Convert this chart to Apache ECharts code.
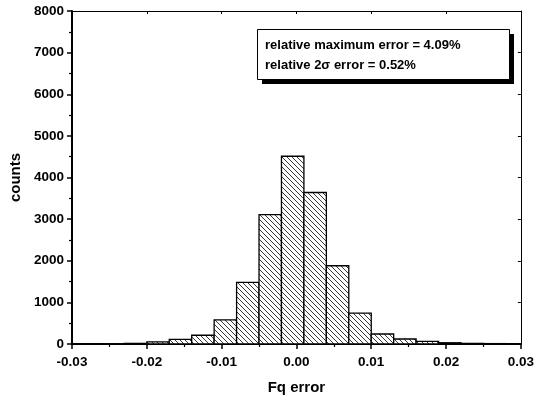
<!DOCTYPE html>
<html>
<head>
<meta charset="utf-8">
<script src="https://cdn.jsdelivr.net/npm/echarts@6/dist/echarts.min.js"></script>
<style>html,body{margin:0;padding:0;background:#fff}#c{width:537px;height:401px}</style>
</head>
<body>
<div id="c"></div>
<script>
// Histogram data (lower bin edge, counts); bin width 0.003
const binLower = [-0.026, -0.023, -0.020, -0.017, -0.014, -0.011, -0.008, -0.005, -0.002, 0.001, 0.004, 0.007, 0.010, 0.013, 0.016, 0.019, 0.022, 0.025];
const counts   = [5, 15, 50, 110, 210, 580, 1480, 3110, 4510, 3640, 1880, 740, 240, 120, 65, 30, 15, 10];
const binWidth = 0.003;
const xTicks = [-0.03, -0.02, -0.01, 0.00, 0.01, 0.02, 0.03];
const yTicks = [0, 1000, 2000, 3000, 4000, 5000, 6000, 7000, 8000];
const xTitle = 'Fq error';
const yTitle = 'counts';
const noteLines = ['relative maximum error = 4.09%', 'relative 2σ error = 0.52%'];

const data = binLower.map((b, i) => [b, +(b + binWidth).toFixed(4), counts[i]]);

// hatch pattern
const tile = document.createElement('canvas');
const T = 5;
tile.width = T; tile.height = T;
const g = tile.getContext('2d');
g.fillStyle = '#fff'; g.fillRect(0, 0, T, T);
g.strokeStyle = '#222'; g.lineWidth = 0.9;
for (const o of [-T, 0, T]) {
  g.beginPath(); g.moveTo(o, 0); g.lineTo(o + T, T); g.stroke();
}
const hatch = { image: tile, repeat: 'repeat' };

const font = 'Liberation Sans, Arial, sans-serif';
const chart = echarts.init(document.getElementById('c'), null, { renderer: 'canvas' });
const axisBase = {
  axisLine: { show: true, onZero: false, lineStyle: { color: '#000', width: 2 } },
  splitLine: { show: false },
};
chart.setOption({
  animation: false,
  backgroundColor: '#fff',
  grid: { left: 70, right: 14, top: 11, bottom: 57 },
  xAxis: [{
    ...axisBase,
    type: 'value', min: xTicks[0], max: xTicks[xTicks.length - 1], interval: 0.01,
    name: xTitle, nameLocation: 'middle', nameGap: 36,
    nameTextStyle: { fontFamily: font, fontWeight: 'bold', fontSize: 15, color: '#000' },
    axisTick: { show: true, inside: false, length: 5, lineStyle: { color: '#000', width: 1.5 } },
    minorTick: { show: true, splitNumber: 2, length: 3, lineStyle: { color: '#000', width: 1.2 } },
    axisLabel: { fontFamily: font, fontWeight: 'bold', fontSize: 13.5, color: '#000', margin: 11,
      formatter: v => { const r = Math.round(v * 100) / 100; return (Math.abs(r) < 1e-9 ? 0 : r).toFixed(2); } }
  }, {
    type: 'value', position: 'top', min: xTicks[0], max: xTicks[xTicks.length - 1], interval: 0.01,
    axisLine: { show: true, onZero: false, lineStyle: { color: '#000', width: 1 } },
    axisTick: { show: true, inside: true, length: 3, lineStyle: { color: '#000' } },
    axisLabel: { show: false }, splitLine: { show: false }
  }],
  yAxis: [{
    ...axisBase,
    type: 'value', min: yTicks[0], max: yTicks[yTicks.length - 1], interval: 1000,
    name: yTitle, nameLocation: 'middle', nameGap: 49, nameRotate: 90,
    nameTextStyle: { fontFamily: font, fontWeight: 'bold', fontSize: 15, color: '#000' },
    axisTick: { show: true, inside: false, length: 5, lineStyle: { color: '#000', width: 1.5 } },
    minorTick: { show: true, splitNumber: 2, length: 3, lineStyle: { color: '#000', width: 1.2 } },
    axisLabel: { fontFamily: font, fontWeight: 'bold', fontSize: 13.5, color: '#000', margin: 8,
      formatter: v => String(v) }
  }, {
    type: 'value', position: 'right', min: yTicks[0], max: yTicks[yTicks.length - 1], interval: 1000,
    axisLine: { show: true, onZero: false, lineStyle: { color: '#000', width: 1 } },
    axisTick: { show: true, inside: true, length: 3, lineStyle: { color: '#000' } },
    axisLabel: { show: false }, splitLine: { show: false }
  }],
  series: [{
    type: 'custom',
    data: data,
    encode: { x: [0, 1], y: 2 },
    renderItem: (params, api) => {
      const p0 = api.coord([api.value(0), api.value(2)]);
      const p1 = api.coord([api.value(1), 0]);
      return {
        type: 'rect',
        shape: { x: p0[0], y: p0[1], width: p1[0] - p0[0], height: p1[1] - p0[1] },
        style: { fill: hatch, stroke: '#000', lineWidth: 1.3 }
      };
    }
  }],
  graphic: [
    { type: 'rect', left: 262, top: 34, shape: { width: 252, height: 50 }, style: { fill: '#000' }, z: 10 },
    { type: 'rect', left: 257, top: 29, shape: { width: 252, height: 50 }, style: { fill: '#fff', stroke: '#000', lineWidth: 1 }, z: 11 },
    { type: 'text', left: 265, top: 35, z: 12,
      style: { text: noteLines.join('\n'), fontFamily: font, fontWeight: 'bold', fontSize: 13, lineHeight: 20, fill: '#000' } }
  ]
});
</script>
</body>
</html>
